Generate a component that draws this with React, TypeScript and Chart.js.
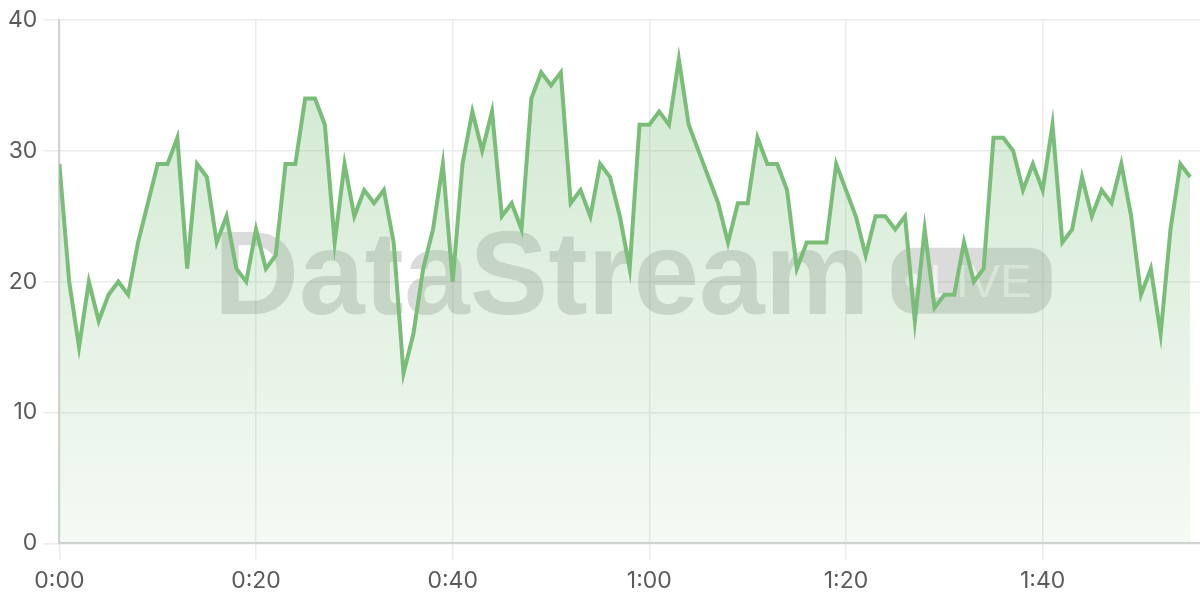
import React, { useEffect, useRef } from "react";
import { Chart, registerables } from "chart.js";

Chart.register(...registerables);

// Seconds elapsed (0..115) and the sampled values
const seconds: number[] = Array.from({ length: 116 }, (_, i) => i);
const values: number[] = [
  29, 20, 15, 20, 17, 19, 20, 19, 23, 26,
  29, 29, 31, 21, 29, 28, 23, 25, 21, 20,
  24, 21, 22, 29, 29, 34, 34, 32, 23, 29,
  25, 27, 26, 27, 23, 13, 16, 21, 24, 29,
  20, 29, 33, 30, 33, 25, 26, 24, 34, 36,
  35, 36, 26, 27, 25, 29, 28, 25, 21, 32,
  32, 33, 32, 37, 32, 30, 28, 26, 23, 26,
  26, 31, 29, 29, 27, 21, 23, 23, 23, 29,
  27, 25, 22, 25, 25, 24, 25, 17, 24, 18,
  19, 19, 23, 20, 21, 31, 31, 30, 27, 29,
  27, 32, 23, 24, 28, 25, 27, 26, 29, 25,
  19, 21, 16, 24, 29, 28,
];
const xTickValues: number[] = [0, 20, 40, 60, 80, 100];
const yTickValues: number[] = [0, 10, 20, 30, 40];
const watermarkText = "DataStream";
const badgeText = "LIVE";

const fmt = (s: number) => `${Math.floor(s / 60)}:${String(s % 60).padStart(2, "0")}`;

const watermarkPlugin = {
  id: "watermark",
  beforeDatasetsDraw(chart: any) {
    const { ctx, chartArea } = chart;
    const cx = (chartArea.left + chartArea.right) / 2 + 3;
    const cy = (chartArea.top + chartArea.bottom) / 2;
    ctx.save();
    ctx.font = "bold 118px 'Liberation Sans', Arial, sans-serif";
    const w1 = ctx.measureText(watermarkText).width;
    const gap = 22;
    const pillW = 160;
    const pillH = 66;
    const total = w1 + gap + pillW;
    const startX = cx - total / 2;
    ctx.fillStyle = "rgba(90,90,90,0.22)";
    ctx.textBaseline = "alphabetic";
    ctx.textAlign = "left";
    ctx.fillText(watermarkText, startX, cy + 32);
    const px = startX + w1 + gap;
    const py = cy - 34;
    ctx.beginPath();
    ctx.roundRect(px, py, pillW, pillH, 22);
    ctx.fill();
    ctx.fillStyle = "rgba(255,255,255,0.6)";
    ctx.beginPath();
    ctx.arc(px + 21, py + pillH / 2, 7.5, 0, Math.PI * 2);
    ctx.fill();
    ctx.font = "47px 'Liberation Sans', Arial, sans-serif";
    ctx.fillText(badgeText, px + 38, py + 49);
    ctx.restore();
  },
};

export default function App() {
  const ref = useRef<HTMLCanvasElement>(null);
  useEffect(() => {
    const canvas = ref.current!;
    const chart = new Chart(canvas, {
      type: "line",
      data: {
        datasets: [
          {
            data: seconds.map((s, i) => ({ x: s, y: values[i] })),
            borderColor: "#79bd79",
            borderWidth: 4,
            pointRadius: 0,
            tension: 0,
            fill: "origin",
            backgroundColor: (c: any) => {
              const area = c.chart.chartArea;
              if (!area) return "rgba(121,189,121,0.2)";
              const g = c.chart.ctx.createLinearGradient(0, area.top, 0, area.bottom);
              g.addColorStop(0, "rgba(121,189,121,0.36)");
              g.addColorStop(1, "rgba(121,189,121,0.08)");
              return g;
            },
          },
        ],
      },
      options: {
        animation: false,
        responsive: true,
        maintainAspectRatio: false,
        layout: { padding: { left: 2, right: 0, top: 20, bottom: -3 } },
        plugins: { legend: { display: false }, tooltip: { enabled: false } },
        scales: {
          x: {
            type: "linear",
            min: 0,
            max: 116,
            afterBuildTicks: (axis: any) => {
              axis.ticks = xTickValues.map((v) => ({ value: v }));
            },
            ticks: {
              callback: (v: any) => fmt(Number(v)),
              color: "#5a5a5a",
              font: { family: "Inter", size: 23 },
              padding: 8,
              maxRotation: 0,
            },
            grid: { color: "#ebebeb", tickLength: 16, lineWidth: 1.5 },
            border: { color: "#d2d2d2", width: 2 },
          },
          y: {
            min: 0,
            max: 40,
            afterBuildTicks: (axis: any) => {
              axis.ticks = yTickValues.map((v) => ({ value: v }));
            },
            ticks: {
              color: "#5a5a5a",
              font: { family: "Inter", size: 23 },
              padding: 6,
            },
            grid: { color: "#ebebeb", tickLength: 16, lineWidth: 1.5 },
            border: { color: "#d2d2d2", width: 2 },
          },
        },
      },
      plugins: [watermarkPlugin],
    });
    return () => chart.destroy();
  }, []);
  return (
    <div style={{ position: "fixed", left: 0, top: 0, width: 1200, height: 600, background: "#fff" }}>
      <canvas ref={ref} />
    </div>
  );
}
